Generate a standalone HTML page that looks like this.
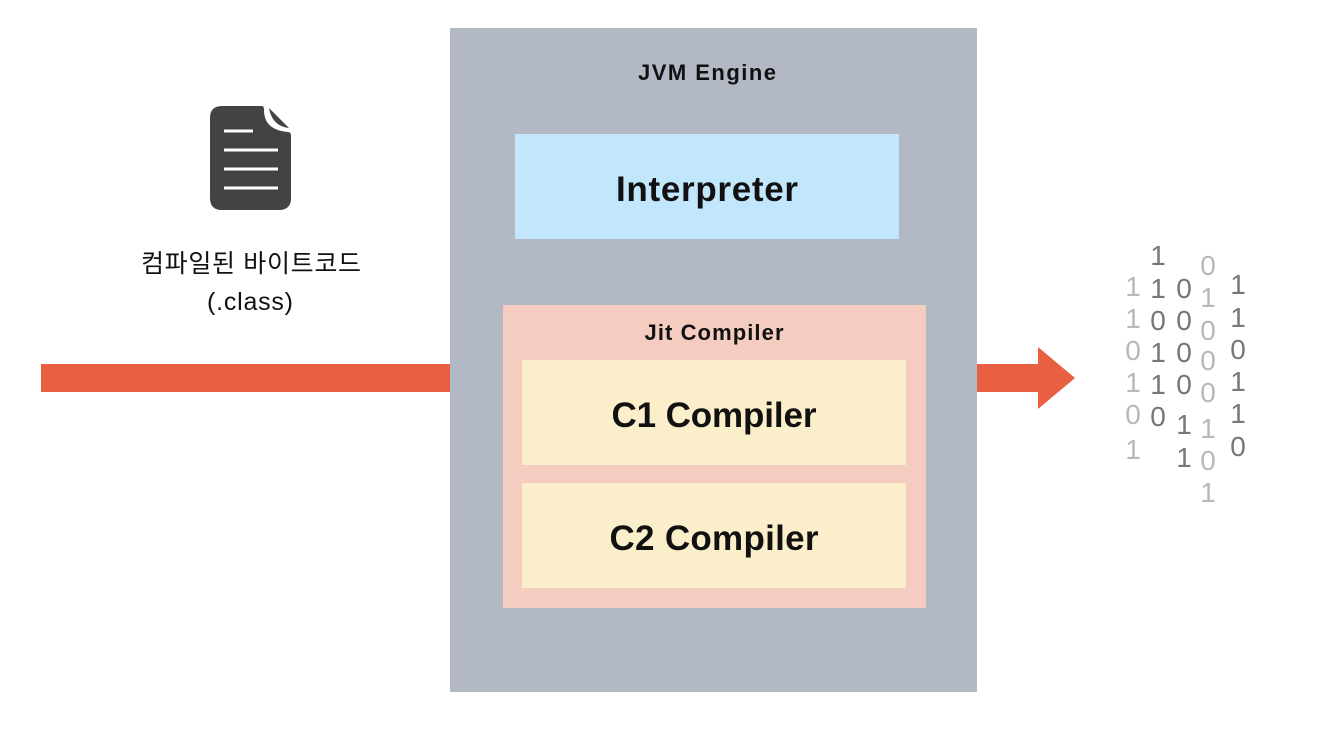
<!DOCTYPE html>
<html><head><meta charset="utf-8"><style>
body{margin:0;width:1318px;height:728px;background:#fff;overflow:hidden}
svg text{font-family:"Liberation Sans","Noto Sans CJK KR",sans-serif}
</style></head><body>
<svg width="1318" height="728" viewBox="0 0 1318 728">
<rect x="41" y="364" width="410" height="28" fill="#e95f41"/>
<rect x="450" y="28" width="527" height="664" fill="#b2b8c4"/>
<polygon points="977,364 1038,364 1038,347 1075,378 1038,409 1038,392 977,392" fill="#e95f41"/>
<text x="707" y="80" font-size="22" font-weight="bold" text-anchor="middle" fill="#111" textLength="138">JVM Engine</text>
<rect x="515" y="134" width="384" height="105" fill="#c2e6fb"/>
<text x="707" y="201" font-size="35" font-weight="bold" text-anchor="middle" fill="#111" textLength="182">Interpreter</text>
<rect x="503" y="305" width="423" height="303" fill="#f4cdc0"/>
<text x="714" y="340" font-size="22" font-weight="bold" text-anchor="middle" fill="#111" textLength="139">Jit Compiler</text>
<rect x="522" y="360" width="384" height="105" fill="#fbefcb"/>
<text x="714" y="427" font-size="35" font-weight="bold" text-anchor="middle" fill="#111" textLength="205">C1 Compiler</text>
<rect x="522" y="483" width="384" height="105" fill="#fbefcb"/>
<text x="714" y="550" font-size="35" font-weight="bold" text-anchor="middle" fill="#111" textLength="209">C2 Compiler</text>
<path d="M222,106 H262 Q264,106 264,110 Q264,130 288,132 Q291,132 291,136 V198 Q291,210 279,210 H222 Q210,210 210,198 V118 Q210,106 222,106 Z" fill="#434345"/>
<path d="M269,108 L289,128 Q272,126 269,108 Z" fill="#434345"/>
<g stroke="#fff" stroke-width="3"><line x1="224" y1="131" x2="253" y2="131"/><line x1="224" y1="150" x2="278" y2="150"/><line x1="224" y1="169" x2="278" y2="169"/><line x1="224" y1="188" x2="278" y2="188"/></g>
<text x="251" y="272" font-size="25" text-anchor="middle" fill="#111" textLength="220">컴파일된 바이트코드</text>
<text x="250" y="310" font-size="25" text-anchor="middle" fill="#111" textLength="86">(.class)</text>
<g font-size="28" text-anchor="middle">
<g fill="#b8b8b8"><text x="1133" y="296">1</text><text x="1133" y="328">1</text><text x="1133" y="360">0</text><text x="1133" y="392">1</text><text x="1133" y="424">0</text><text x="1133" y="459">1</text></g>
<g fill="#777"><text x="1158" y="265">1</text><text x="1158" y="298">1</text><text x="1158" y="330">0</text><text x="1158" y="362">1</text><text x="1158" y="394">1</text><text x="1158" y="426">0</text></g>
<g fill="#777"><text x="1184" y="298">0</text><text x="1184" y="330">0</text><text x="1184" y="362">0</text><text x="1184" y="394">0</text><text x="1184" y="434">1</text><text x="1184" y="467">1</text></g>
<g fill="#b8b8b8"><text x="1208" y="275">0</text><text x="1208" y="307">1</text><text x="1208" y="340">0</text><text x="1208" y="370">0</text><text x="1208" y="402">0</text><text x="1208" y="438">1</text><text x="1208" y="470">0</text><text x="1208" y="502">1</text></g>
<g fill="#777"><text x="1238" y="294">1</text><text x="1238" y="327">1</text><text x="1238" y="359">0</text><text x="1238" y="391">1</text><text x="1238" y="423">1</text><text x="1238" y="456">0</text></g>
</g>
</svg>
</body></html>
